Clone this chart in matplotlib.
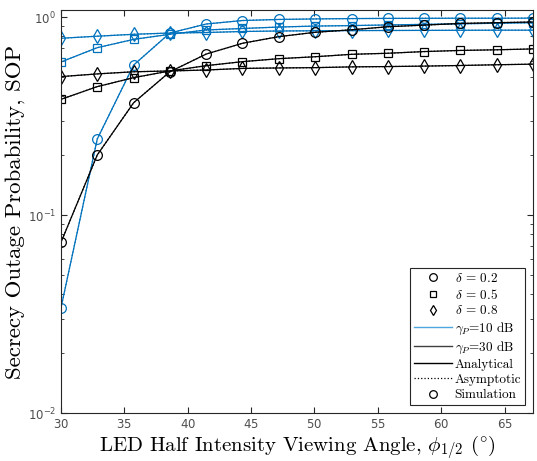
import numpy as np
import matplotlib
matplotlib.use("Agg")
import matplotlib.pyplot as plt
from matplotlib.lines import Line2D
from matplotlib.ticker import LogLocator, NullFormatter, FixedLocator

plt.rcParams['mathtext.fontset'] = 'cm'
plt.rcParams['axes.formatter.use_mathtext'] = True

# x values: LED half intensity viewing angle (deg)
angles = [30.0, 32.86, 35.73, 38.59, 41.46, 44.32, 47.19, 50.05, 52.92, 55.78, 58.65, 61.51, 64.38, 67.24]

# gamma_P = 10 dB
sop10_d02 = [0.034, 0.242, 0.572, 0.830, 0.922, 0.960, 0.972, 0.978, 0.982, 0.984, 0.985, 0.986, 0.986, 0.987]
sop10_d05 = [0.593, 0.700, 0.771, 0.818, 0.860, 0.875, 0.890, 0.900, 0.905, 0.912, 0.918, 0.924, 0.930, 0.936]
sop10_d08 = [0.781, 0.800, 0.818, 0.830, 0.835, 0.845, 0.850, 0.852, 0.854, 0.855, 0.856, 0.857, 0.858, 0.858]

# gamma_P = 30 dB
sop30_d02 = [0.0728, 0.201, 0.369, 0.529, 0.650, 0.737, 0.796, 0.837, 0.862, 0.893, 0.910, 0.928, 0.936, 0.944]
sop30_d05 = [0.384, 0.445, 0.494, 0.534, 0.568, 0.595, 0.616, 0.630, 0.648, 0.656, 0.669, 0.678, 0.683, 0.690]
sop30_d08 = [0.500, 0.516, 0.529, 0.534, 0.540, 0.550, 0.553, 0.555, 0.560, 0.562, 0.565, 0.569, 0.574, 0.578]

xticks = [30, 35, 40, 45, 50, 55, 60, 65]

BLUE = '#0072BD'
fig = plt.figure(figsize=(5.37, 4.61), dpi=100)
ax = fig.add_axes([61/537, 1-413/461, (533-61)/537, (413-10)/461])

series = [
    (sop10_d02, BLUE, 'o', 7),
    (sop10_d05, BLUE, 's', 5.5),
    (sop10_d08, BLUE, 'd', 7),
    (sop30_d02, 'black', 'o', 7),
    (sop30_d05, 'black', 's', 5.5),
    (sop30_d08, 'black', 'd', 7),
]
for y, c, m, ms in series:
    ax.plot(angles, y, '-', color=c, lw=0.9)
    ax.plot(angles, y, ':', color=c, lw=0.9)
    ax.plot(angles, y, linestyle='none', marker=m, markersize=ms,
            markerfacecolor='none', markeredgecolor=c, markeredgewidth=0.9)

ax.set_yscale('log')
ax.set_xlim(30, 67.24)
ax.set_ylim(0.01, 1.085)
ax.xaxis.set_major_locator(FixedLocator(xticks))
ax.yaxis.set_major_locator(LogLocator(base=10, numticks=10))
ax.yaxis.set_minor_locator(LogLocator(base=10, subs=np.arange(2, 10), numticks=10))
ax.yaxis.set_minor_formatter(NullFormatter())
ax.tick_params(which='both', direction='in', top=True, right=True,
               labelsize=8.5, colors='#262626', labelcolor='#4d4d4d')
ax.tick_params(which='major', length=4)
ax.tick_params(which='minor', length=2.5)
for s in ax.spines.values():
    s.set_linewidth(0.8)
    s.set_color('#262626')

ax.set_xlabel(r'LED Half Intensity Viewing Angle, $\phi_{1/2}$ ($^{\circ}$)',
              fontsize=15, family='cmr10', labelpad=2)
ax.set_ylabel('Secrecy Outage Probability, SOP', fontsize=16.5, family='cmr10', labelpad=2)

handles = [
    Line2D([], [], ls='none', marker='o', mfc='none', mec='black', ms=5.5, mew=0.9),
    Line2D([], [], ls='none', marker='s', mfc='none', mec='black', ms=4.5, mew=0.9),
    Line2D([], [], ls='none', marker='d', mfc='none', mec='black', ms=5.5, mew=0.9),
    Line2D([], [], color='#4da6e0', lw=1.0),
    Line2D([], [], color='#404040', lw=1.0),
    Line2D([], [], color='black', lw=1.0),
    Line2D([], [], color='black', lw=0.9, ls=':'),
    Line2D([], [], ls='none', marker='o', mfc='none', mec='black', ms=5.5, mew=0.9),
]
labels = [r'$\delta$ = 0.2', r'$\delta$ = 0.5', r'$\delta$ = 0.8',
          r'$\gamma_P$=10 dB', r'$\gamma_P$=30 dB', 'Analytical', 'Asymptotic', 'Simulation']
leg = ax.legend(handles, labels, loc='lower right',
                prop={'family': 'cmr10', 'size': 9.5},
                frameon=True, fancybox=False, edgecolor='#262626', framealpha=1,
                handlelength=2.9, handletextpad=0.2, labelspacing=0.22,
                borderpad=0.3, borderaxespad=0.6)
leg.get_frame().set_linewidth(0.8)

fig.savefig('out.png', dpi=100)
